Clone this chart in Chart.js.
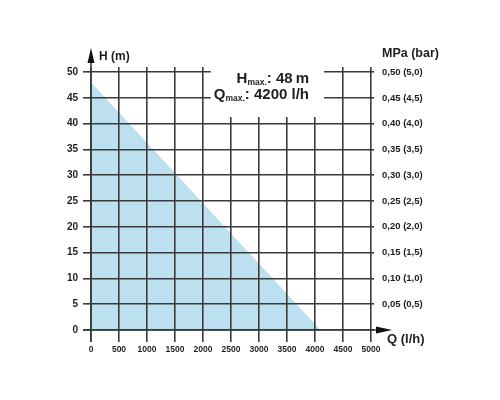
<!DOCTYPE html>
<html>
<head>
<meta charset="utf-8">
<script src="https://cdn.jsdelivr.net/npm/chart.js@4/dist/chart.umd.min.js"></script>
<style>
  html, body { margin: 0; padding: 0; background: #fff; }
  #wrap { width: 500px; height: 400px; }
</style>
</head>
<body>
<div id="wrap"><canvas id="pumpChart" width="500" height="400"></canvas></div>
<script>
// ---- data ----
const flowTicks = [0, 500, 1000, 1500, 2000, 2500, 3000, 3500, 4000, 4500, 5000];
const headTicks = [0, 5, 10, 15, 20, 25, 30, 35, 40, 45, 50];
const pressureLabels = ["", "0,05 (0,5)", "0,10 (1,0)", "0,15 (1,5)", "0,20 (2,0)", "0,25 (2,5)",
                        "0,30 (3,0)", "0,35 (3,5)", "0,40 (4,0)", "0,45 (4,5)", "0,50 (5,0)"];
const curveFlow = [0, 4100];   // l/h
const curveHead = [48, 0];     // m

const LINE = '#3a3a3a';
const TEXT = '#1e1e1e';
const FONT = '"Liberation Sans", Arial, sans-serif';

// ---- extras: arrows, axis titles, info box ----
const decorPlugin = {
    id: 'decor',
    afterDraw(chart) {
        const ctx = chart.ctx;
        const x = chart.scales.x, y = chart.scales.y;
        const x0 = x.getPixelForValue(0), y0 = y.getPixelForValue(0);
        const area = chart.chartArea;
        ctx.save();

        // white box behind the info text
        const bl = x.getPixelForValue(2140), br = x.getPixelForValue(4160);
        const bb = y.getPixelForValue(41.3);
        ctx.fillStyle = '#fff';
        ctx.fillRect(bl, area.top - 1, br - bl, bb - area.top + 1);

        // vertical axis + arrow
        ctx.strokeStyle = LINE; ctx.fillStyle = '#111'; ctx.lineWidth = 1.6;
        ctx.beginPath(); ctx.moveTo(x0, y0 + 12); ctx.lineTo(x0, 60); ctx.stroke();
        ctx.beginPath(); ctx.moveTo(x0, 48); ctx.lineTo(x0 - 3.5, 63); ctx.lineTo(x0 + 3.5, 63); ctx.closePath(); ctx.fill();

        // horizontal axis + arrow
        ctx.beginPath(); ctx.moveTo(x0 - 8, y0); ctx.lineTo(380, y0); ctx.stroke();
        ctx.beginPath(); ctx.moveTo(392, y0); ctx.lineTo(376, y0 - 3.4); ctx.lineTo(376, y0 + 3.4); ctx.closePath(); ctx.fill();

        // axis titles
        ctx.fillStyle = TEXT; ctx.textBaseline = 'alphabetic'; ctx.textAlign = 'left';
        ctx.font = 'bold 12px ' + FONT;
        ctx.fillText('H (m)', 99, 60);
        ctx.font = 'bold 12.5px ' + FONT;
        ctx.fillText('MPa (bar)', 382, 57);
        ctx.font = 'bold 13px ' + FONT;
        ctx.fillText('Q (l/h)', 387, 343);

        // info lines, right aligned
        const drawInfo = (main, rest, baseline) => {
            const parts = [[main, 'bold 15px ', 0], ['max.', 'bold 8.5px ', 2], [rest, 'bold 15px ', 0]];
            let w = 0;
            parts.forEach(p => { ctx.font = p[1] + FONT; w += ctx.measureText(p[0]).width; });
            let cx = 309 - w;
            parts.forEach(p => {
                ctx.font = p[1] + FONT;
                ctx.fillText(p[0], cx, baseline + p[2]);
                cx += ctx.measureText(p[0]).width;
            });
        };
        drawInfo('H', ': 48\u2009m', 83);
        drawInfo('Q', ': 4200 l/h', 98.5);

        ctx.restore();
    }
};

const useTicks = list => scale => { scale.ticks = list.map(v => ({ value: v })); };

new Chart(document.getElementById('pumpChart'), {
    type: 'line',
    data: {
        datasets: [{
            data: curveFlow.map((q, i) => ({ x: q, y: curveHead[i] })),
            fill: 'origin',
            backgroundColor: '#bde0f0',
            borderWidth: 0,
            pointRadius: 0,
            tension: 0
        }]
    },
    options: {
        responsive: false,
        animation: false,
        layout: { padding: { top: 67, left: 0, right: 0, bottom: 0 } },
        plugins: { legend: { display: false }, tooltip: { enabled: false } },
        scales: {
            x: {
                type: 'linear', min: 0, max: 5000,
                afterBuildTicks: useTicks(flowTicks),
                afterFit: s => { s.height = 70; },
                border: { display: false },
                grid: { color: LINE, lineWidth: 1.6, tickLength: 12, z: 1 },
                ticks: {
                    color: TEXT, font: { family: FONT, size: 8.5, weight: 'bold' }, padding: 3, maxRotation: 0,
                    callback: v => String(v)
                }
            },
            y: {
                min: 0, max: 51,
                afterBuildTicks: useTicks(headTicks),
                afterFit: s => { s.width = 91; },
                border: { display: false },
                grid: { color: LINE, lineWidth: 1.6, tickLength: 8, z: 1 },
                ticks: { color: TEXT, font: { family: FONT, size: 10, weight: 'bold' }, padding: 5 }
            },
            y2: {
                position: 'right', min: 0, max: 51,
                afterBuildTicks: useTicks(headTicks),
                afterFit: s => { s.width = 129; },
                border: { display: false },
                grid: { color: LINE, lineWidth: 1.6, tickLength: 3, drawOnChartArea: false, z: 1 },
                ticks: {
                    color: TEXT, font: { family: FONT, size: 9.5, weight: 'bold' }, padding: 8,
                    callback: (v, i) => pressureLabels[i]
                }
            }
        }
    },
    plugins: [decorPlugin]
});
</script>
</body>
</html>
